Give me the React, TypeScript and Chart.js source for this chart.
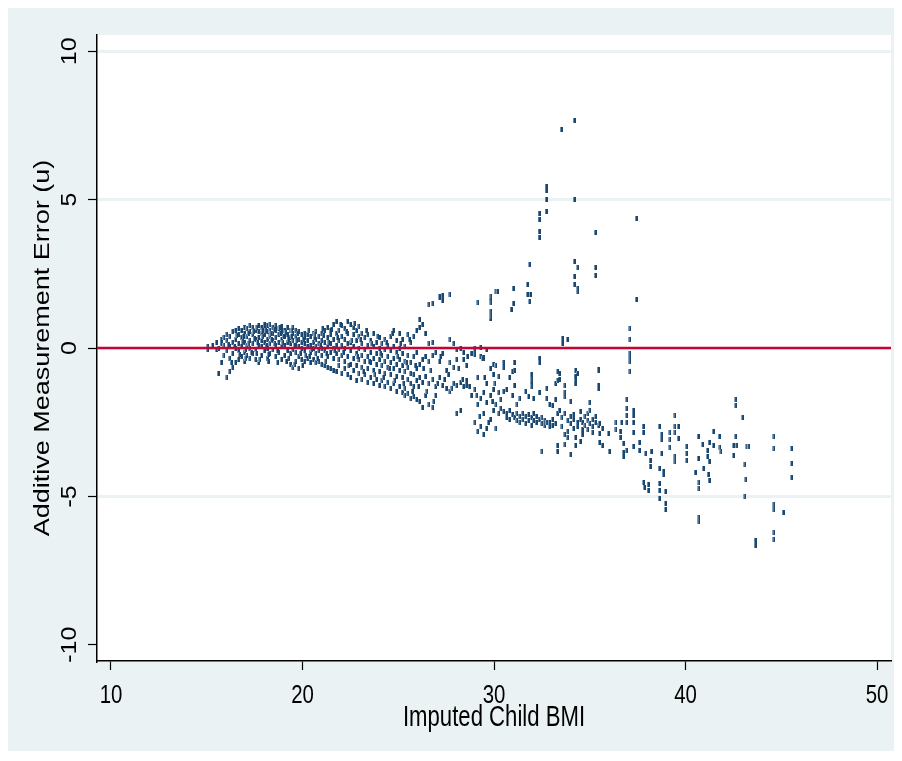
import React, { useEffect, useRef } from "react";
import { Chart, registerables } from "chart.js";

Chart.register(...registerables);

// ---- axes / labels ----
const X_TICKS = [10, 20, 30, 40, 50];
const Y_TICKS = [-10, -5, 0, 5, 10];
const X_TITLE = "Imputed Child BMI";
const Y_TITLE = "Additive Measurement Error (u)";
const X_RANGE = [9.27, 50.73];
const Y_RANGE = [-10.55, 10.55];
const REF_LINE_Y = 0;

// ---- data: [BMI, [errors...]] columns ----
const coreLeft: [number, number[]][] = [
  [15.05, [0.05, -0.05]],
  [15.3, [0.1]],
  [15.5, [0.2, -0.05]],
  [15.6, [-0.85, 0.0]],
  [15.75, [0.15, -0.5, 0.3]],
  [15.9, [-0.25, 0.1, 0.35]],
  [16.05, [-1.0, -0.1, 0.25, 0.45]],
  [16.2, [-0.8, -0.35, 0.05, 0.4]],
  [16.35, [-0.65, -0.2, 0.2, 0.55]],
  [16.5, [-0.5, 0.0, 0.3, 0.6]],
  [16.65, [-0.4, -0.1, 0.15, 0.45, 0.65]],
  [16.8, [-0.3, 0.05, 0.35, 0.6]],
  [16.95, [-0.45, -0.15, 0.2, 0.5, 0.7]],
  [17.1, [-0.25, 0.1, 0.4, 0.65]],
  [17.25, [-0.35, 0.0, 0.25, 0.55, 0.75]],
  [17.4, [-0.2, 0.15, 0.45, 0.7]],
  [17.55, [-0.4, -0.05, 0.3, 0.6]],
  [17.7, [-0.5, 0.1, 0.35, 0.55, 0.75]],
  [17.85, [-0.25, 0.05, 0.25, 0.5, 0.7]],
  [18.0, [-0.1, 0.2, 0.45, 0.65, 0.8]],
  [18.15, [-0.35, 0.0, 0.3, 0.55, 0.75]],
  [18.3, [-0.2, 0.15, 0.4, 0.6, 0.78]],
  [18.45, [-0.05, 0.25, 0.5, 0.7]],
  [18.6, [-0.3, 0.1, 0.35, 0.6, 0.75]],
  [18.75, [-0.15, 0.2, 0.45, 0.65]],
  [18.9, [-0.4, 0.05, 0.3, 0.55, 0.72]],
  [19.05, [-0.25, 0.1, 0.4, 0.6]],
  [19.2, [-0.1, 0.2, 0.45, 0.7]],
  [19.35, [-0.55, -0.2, 0.15, 0.35, 0.6]],
  [19.5, [-0.65, -0.05, 0.25, 0.5, 0.68]],
  [19.65, [-0.45, -0.15, 0.1, 0.4, 0.6]],
  [19.8, [-0.7, -0.3, 0.05, 0.3, 0.55]],
  [19.95, [-0.4, 0.0, 0.2, 0.45]],
];

const coreMid: [number, number[]][] = [
  [20.1, [-0.45, -0.1, 0.15, 0.35, 0.5]],
  [20.25, [-0.35, 0.05, 0.25, 0.45]],
  [20.4, [-0.5, -0.15, 0.1, 0.4]],
  [20.55, [-0.4, 0.0, 0.2, 0.5]],
  [20.7, [-0.5, -0.2, 0.05, 0.3, 0.55]],
  [20.85, [-0.45, -0.1, 0.15, 0.4]],
  [21.0, [-0.55, -0.25, 0.0, 0.25, 0.5]],
  [21.15, [-0.6, -0.1, 0.2, 0.6]],
  [21.3, [-0.65, -0.3, 0.05, 0.35, 0.7]],
  [21.45, [-0.7, -0.15, 0.15, 0.45]],
  [21.6, [-0.75, -0.35, 0.0, 0.3, 0.8]],
  [21.75, [-0.8, -0.2, 0.1, 0.5, 0.88]],
  [21.9, [-0.6, -0.4, -0.05, 0.25, 0.6]],
  [22.05, [-0.85, -0.25, 0.1, 0.4, 0.75]],
  [22.2, [-0.7, -0.45, 0.0, 0.3, 0.65]],
  [22.35, [-0.9, -0.3, 0.15, 0.5, 0.88]],
  [22.5, [-1.0, -0.55, -0.1, 0.2, 0.8]],
  [22.65, [-0.75, -0.35, 0.05, 0.45, 0.7]],
  [22.8, [-1.1, -0.6, -0.2, 0.25, 0.6]],
  [22.95, [-0.85, -0.4, 0.0, 0.4, 0.72]],
  [23.1, [-1.05, -0.65, -0.25, 0.15, 0.5]],
  [23.25, [-0.9, -0.45, -0.05, 0.35]],
  [23.4, [-1.15, -0.7, -0.3, 0.1, 0.45]],
  [23.55, [-1.0, -0.5, -0.15, 0.25]],
  [23.7, [-1.2, -0.75, -0.35, 0.05, 0.5]],
  [23.85, [-1.05, -0.55, -0.2, 0.2]],
  [24.0, [-1.25, -0.8, -0.4, 0.0, 0.35]],
  [24.15, [-1.1, -0.6, -0.25, 0.15]],
  [24.3, [-1.3, -0.85, -0.45, -0.05, 0.3]],
  [24.45, [-1.15, -0.65, -0.3, 0.1]],
  [24.6, [-1.35, -0.9, -0.5, -0.1, 0.4]],
  [24.75, [-1.2, -0.7, -0.35, 0.05, 0.6]],
  [24.9, [-1.45, -0.95, -0.55, -0.15, 0.25]],
  [25.05, [-1.3, -0.75, -0.4, 0.0, 0.5]],
  [25.2, [-1.5, -1.0, -0.6, -0.2, 0.3]],
  [25.35, [-1.6, -1.35, -0.8, -0.45, 0.05]],
  [25.5, [-1.55, -1.05, -0.65, -0.25, 0.45]],
  [25.65, [-1.7, -1.2, -0.85, -0.5, 0.2]],
  [25.8, [-1.65, -1.3, -0.9, -0.3, 0.4]],
  [25.95, [-1.75, -1.1, -0.7, -0.15, 0.6]],
];

const coreFill: [number, number][] = [
  [16.12, 0.12], [16.28, -0.48], [16.44, 0.05], [16.58, 0.42], [16.72, -0.22], [16.88, 0.22],
  [17.03, -0.05], [17.17, 0.5], [17.33, -0.15], [17.48, 0.32], [17.62, 0.68], [17.78, -0.38],
  [17.93, 0.38], [18.08, 0.58], [18.22, -0.22], [18.38, 0.28], [18.52, 0.62], [18.68, -0.1],
  [18.83, 0.48], [18.97, 0.18], [19.12, 0.52], [19.28, -0.35], [19.42, 0.4], [19.58, 0.08],
  [19.72, 0.5], [19.88, -0.18], [20.03, 0.3], [20.18, -0.25], [20.33, 0.58], [20.48, -0.05],
  [20.62, 0.35], [20.78, -0.35], [20.93, 0.1], [21.08, 0.42], [21.22, -0.45], [21.38, 0.2],
  [21.52, 0.62], [21.68, -0.1], [21.82, 0.35], [21.97, 0.78], [22.12, -0.15], [22.28, 0.55],
  [22.42, -0.6], [22.58, 0.25], [22.72, 0.82], [22.88, -0.3], [23.03, 0.3], [23.18, -0.8],
  [23.32, 0.6], [23.48, -0.45], [23.62, 0.15], [23.78, -0.9], [23.93, 0.4], [24.08, -0.2],
  [24.22, -1.0], [24.38, 0.2], [24.52, -0.7], [24.68, 0.5], [24.82, -1.1], [24.98, -0.3],
  [25.12, 0.15], [25.28, -1.2], [25.42, -0.5], [25.58, 0.3], [25.72, -1.45], [25.88, -0.6],
  [16.9, 0.38], [17.2, 0.15], [17.45, 0.55], [17.65, 0.2], [17.9, 0.6], [18.1, 0.1],
  [18.35, 0.5], [18.55, 0.15], [18.8, 0.7], [19.0, 0.4], [19.25, 0.3], [19.45, 0.6],
  [19.7, 0.25], [17.05, -0.35], [17.6, -0.2], [18.2, -0.45], [18.7, -0.5], [19.15, -0.45],
  [19.6, -0.55], [20.0, -0.6], [20.35, -0.3], [20.65, 0.45], [21.05, 0.65], [21.45, 0.6],
  [21.25, -0.2],
];

const spreadCols: [number, number[]][] = [
  [26.1, [-1.8, -1.0, -0.55, 0.7, 0.95]],
  [26.25, [-2.0, -1.15, -0.4, 0.8]],
  [26.4, [-1.6, -0.95, -0.3, 0.5]],
  [26.6, [-1.9, -1.2, -0.45, 0.15, 1.45]],
  [26.8, [-2.0, -1.05, -0.25, 0.2, 1.5]],
  [26.95, [-1.6, -1.3, -0.15]],
  [27.15, [-1.0, -0.45, 1.7, 1.75]],
  [27.3, [-1.25, -0.2, 1.6, 1.78]],
  [27.5, [-1.35, -0.75]],
  [27.7, [-1.45, -0.5, 0.3, 1.82]],
  [27.9, [-1.2, -0.65, 0.15]],
  [28.05, [-2.2, -1.25, -0.4, -0.05]],
  [28.25, [-2.1, -1.15, 0.0]],
  [28.4, [-1.3, -0.4, -0.15]],
  [28.55, [-1.1, -1.25, -0.6]],
  [28.8, [-1.6, -0.2]],
  [29.0, [-2.5, -1.4, -0.2, 0.0]],
  [29.15, [-2.8, -1.9, -1.0, 1.55]],
  [29.3, [-2.65, -1.7, -0.3, 0.02]],
  [29.45, [-2.9, -2.2, -1.5, -0.35]],
  [29.6, [-2.7, -1.85, -1.2, -0.05]],
  [29.8, [-2.4, -1.6, -0.7, 1.0, 1.2, 1.6]],
  [29.95, [-2.1, -1.4, -0.9, -0.55]],
  [30.1, [-2.7, -1.9, -0.6, 1.9]],
  [30.25, [-2.2, -1.5, -0.95]],
];

const spreadFill: [number, number][] = [
  [26.05, -1.3], [26.3, -0.7], [26.5, -1.45], [26.7, -0.75], [26.85, -1.8], [27.05, -1.2],
  [27.2, -0.3], [27.4, -1.05], [27.6, -0.9], [27.8, -1.35], [28.15, -0.7], [28.35, -1.05],
  [28.6, -0.3], [28.7, -1.3], [29.1, -1.6], [29.25, -2.3], [29.5, -1.0], [29.7, -2.5],
  [29.9, -1.8], [30.05, -1.2],
];

const bandCols: [number, number[]][] = [
  [30.35, [-2.05, -1.75]],
  [30.5, [-2.15, -1.45, -0.65, -0.5]],
  [30.65, [-2.35, -2.2, -1.4]],
  [30.8, [-2.4, -2.1, -1.0]],
  [30.95, [-2.25, -1.6, -0.8]],
  [31.05, [-2.35, -1.25, -0.75, -0.5]],
  [31.2, [-2.45, -2.2, -1.9]],
  [31.35, [-2.5, -2.3, -1.7]],
  [31.5, [-2.4, -2.2]],
  [31.65, [-2.55, -2.3, -1.45]],
  [31.8, [-2.45, -2.25, -1.64]],
  [31.95, [-2.6, -2.35, -1.2, -0.9]],
  [32.05, [-2.45, -2.2, -1.7]],
  [32.2, [-2.5, -2.3]],
  [32.35, [-2.4, -1.5, -0.35]],
  [32.5, [-3.5, -2.55, -2.35]],
  [32.65, [-2.6, -2.45]],
  [32.75, [-2.5, -1.7, -1.35]],
  [32.9, [-2.65, -2.5, -1.9]],
  [33.05, [-2.6, -2.4, -1.95]],
  [33.2, [-2.55, -1.75, -1.2]],
  [33.3, [-3.5, -3.3, -2.2]],
  [33.4, [-2.1, -1.05, -0.85]],
  [33.55, [-2.65, -2.35]],
  [33.7, [-3.25, -2.9, -2.2, -1.6, -1.25]],
  [33.85, [-3.0, -2.8, -2.45]],
  [34.0, [-3.6, -2.55, -2.3, -1.8]],
  [34.15, [-2.7, -2.4, -2.25]],
  [34.25, [-3.3, -3.0, -1.1, -0.75]],
  [34.35, [-2.65, -2.5, -0.85]],
  [34.5, [-3.15, -2.4, -2.15]],
  [34.6, [-2.9, -2.75, -2.5]],
  [34.75, [-2.6, -2.3]],
  [34.9, [-2.75, -2.45, -2.2]],
  [35.0, [-2.55, -2.1, -1.85]],
  [35.15, [-2.85, -2.65, -2.4]],
  [35.3, [-2.5, -2.3]],
  [35.45, [-2.6, -1.25, -0.75]],
  [35.5, [-3.2, -2.88, -2.55]],
  [35.65, [-3.3, -2.7]],
];

const tailPoints: [number, number][] = [
  [35.97, -2.88], [36.02, -3.5], [36.37, -2.52], [36.37, -2.76], [36.58, -2.8], [36.58, -3.0],
  [36.66, -2.52], [36.75, -3.21], [36.75, -3.52], [36.75, -3.66], [36.93, -1.75], [36.93, -2.03],
  [36.93, -2.26], [36.93, -2.52], [36.93, -3.44], [37.27, -2.09], [37.27, -2.29], [37.27, -2.52],
  [37.27, -2.84], [37.27, -3.33], [37.58, -3.2], [37.58, -3.44], [37.79, -2.65], [37.79, -2.84],
  [37.8, -4.55], [37.85, -4.7], [37.92, -3.55], [38.05, -4.6], [38.05, -4.8], [38.15, -3.78],
  [38.15, -3.98], [38.2, -3.5], [38.63, -2.65], [38.63, -4.06], [38.63, -4.56], [38.63, -4.79],
  [38.63, -5.07], [38.75, -2.93], [38.75, -3.1], [38.75, -3.55], [38.84, -4.17], [38.84, -4.28],
  [38.95, -4.84], [38.95, -5.24], [38.95, -5.46], [39.19, -2.85], [39.19, -3.1], [39.19, -3.35],
  [39.45, -2.26], [39.45, -2.65], [39.62, -2.65], [39.45, -2.84], [39.62, -3.04], [39.45, -3.66],
  [39.45, -3.83], [40.06, -3.33], [40.06, -3.55], [40.06, -3.8], [40.5, -4.2], [40.66, -2.97],
  [40.66, -3.72], [40.7, -4.55], [40.7, -4.75], [40.7, -5.7], [40.7, -5.85], [40.89, -3.24],
  [40.93, -4.06], [41.14, -3.46], [41.14, -3.65], [41.23, -3.83], [41.23, -3.19], [41.18, -4.28],
  [41.23, -4.45], [41.45, -2.8], [41.45, -3.27], [41.76, -2.99], [41.8, -3.37], [41.85, -3.5],
  [42.5, -3.29], [42.67, -3.29], [42.5, -3.61], [42.62, -1.73], [42.62, -1.93], [42.62, -2.97],
  [42.98, -2.34], [43.2, -3.33], [43.3, -3.33], [43.1, -3.92], [43.15, -4.43], [43.1, -4.99],
  [43.64, -6.5], [43.64, -6.65], [44.62, -2.97], [44.62, -3.38], [44.62, -5.29], [44.62, -5.46],
  [44.62, -6.23], [44.62, -6.45], [45.1, -5.55], [45.54, -3.38], [45.54, -3.89], [45.54, -4.37],
];

const highPoints: [number, number][] = [
  [34.19, 7.68], [33.51, 7.36], [32.72, 5.3], [32.72, 5.45], [32.72, 5.01], [34.19, 5.01],
  [32.72, 4.61], [32.35, 4.52], [32.35, 4.34], [32.35, 3.93], [32.35, 3.71], [35.29, 3.89],
  [37.43, 4.38], [31.86, 2.81], [34.19, 2.9], [34.37, 2.72], [35.29, 2.72], [35.29, 2.45],
  [34.19, 2.4], [34.19, 2.13], [34.37, 2.02], [34.37, 1.89], [31.74, 2.13], [31.74, 1.8],
  [31.9, 1.8], [31.86, 1.57], [31.0, 1.99], [31.0, 1.49], [30.89, 1.3], [30.17, 1.9],
  [29.84, 1.72], [29.84, 1.55], [29.84, 1.22], [29.84, 1.05], [29.16, 1.54], [37.43, 1.63],
  [37.1, 0.67], [37.1, 0.27], [33.57, 0.33], [33.57, 0.15], [33.83, 0.27], [37.1, -0.2],
  [37.1, -0.32], [37.1, -0.45], [37.1, -0.8], [28.99, -0.05], [28.99, -0.22], [29.43, -0.33],
  [35.45, -0.74], [35.45, -1.35], [34.23, -0.95], [34.23, -1.2], [33.32, -0.8], [33.32, -1.08],
  [33.7, -1.5], [33.7, -1.65], [31.97, -1.05], [31.97, -1.3], [32.37, -0.5], [29.4, -0.35],
];

const MARKER_COLOR = "#1a476f";
const MARKER_EDGE = "#8aa3bb";
const LINE_COLOR = "#c10534";
const BG = "#EAF2F3";
const FONT = '"Liberation Sans", Arial, Helvetica, sans-serif';

function buildPoints() {
  const pts: { x: number; y: number }[] = [];
  const cols = [...coreLeft, ...coreMid, ...spreadCols, ...bandCols];
  for (const [x, ys] of cols) for (const y of ys) pts.push({ x, y });
  for (const [x, y] of [...coreFill, ...spreadFill, ...tailPoints, ...highPoints]) pts.push({ x, y });
  return pts;
}

const textPlugin = {
  id: "stataText",
  beforeDraw(chart: any) {
    const { ctx, chartArea: a } = chart;
    ctx.save();
    ctx.fillStyle = "#ffffff";
    ctx.fillRect(a.left, a.top, a.right - a.left, a.bottom - a.top);
    ctx.restore();
  },
  afterDraw(chart: any) {
    const { ctx, chartArea: a } = chart;
    const xs = chart.scales.x;
    const ys = chart.scales.y;
    ctx.save();
    ctx.fillStyle = "#000";
    ctx.textAlign = "center";
    ctx.textBaseline = "middle";
    ctx.font = `24px ${FONT}`;
    for (const t of X_TICKS) {
      const px = xs.getPixelForValue(t);
      ctx.save();
      ctx.translate(px, a.bottom + 35);
      ctx.scale(0.85, 1.08);
      ctx.fillText(String(t), 0, 0);
      ctx.restore();
    }
    ctx.font = `25px ${FONT}`;
    for (const t of Y_TICKS) {
      const py = ys.getPixelForValue(t);
      ctx.save();
      ctx.translate(a.left - 27, py);
      ctx.scale(0.88, 1);
      ctx.rotate(-Math.PI / 2);
      ctx.fillText(String(t), 0, 0);
      ctx.restore();
    }
    ctx.font = `27px ${FONT}`;
    ctx.save();
    ctx.translate((a.left + a.right) / 2, a.bottom + 57);
    ctx.scale(0.82, 1.08);
    ctx.fillText(X_TITLE, 0, 0);
    ctx.restore();
    ctx.save();
    ctx.translate(a.left - 54, (a.top + a.bottom) / 2);
    ctx.scale(0.85, 1);
    ctx.rotate(-Math.PI / 2);
    ctx.fillText(Y_TITLE, 0, 0);
    ctx.restore();
    ctx.restore();
  },
};

export default function App() {
  const ref = useRef<HTMLCanvasElement | null>(null);
  useEffect(() => {
    if (!ref.current) return;
    const marker = document.createElement("canvas");
    marker.width = 3;
    marker.height = 5;
    const mctx = marker.getContext("2d")!;
    mctx.fillStyle = MARKER_EDGE;
    mctx.fillRect(0, 0, 1, 5);
    mctx.fillStyle = MARKER_COLOR;
    mctx.fillRect(1, 0, 2, 5);

    const chart = new Chart(ref.current, {
      type: "scatter",
      data: {
        datasets: [
          {
            type: "line",
            data: [
              { x: X_RANGE[0], y: REF_LINE_Y },
              { x: X_RANGE[1], y: REF_LINE_Y },
            ],
            borderColor: LINE_COLOR,
            borderWidth: 2.5,
            pointRadius: 0,
            fill: false,
          } as any,
          {
            type: "scatter",
            data: buildPoints(),
            pointStyle: marker as any,
            pointRadius: 2,
            backgroundColor: MARKER_COLOR,
            borderColor: MARKER_COLOR,
          } as any,
        ],
      },
      options: {
        responsive: false,
        animation: false,
        devicePixelRatio: 1,
        events: [],
        layout: { padding: { top: 27, right: 5, left: 0, bottom: 0 } },
        plugins: { legend: { display: false }, tooltip: { enabled: false }, title: { display: false } },
        scales: {
          x: {
            type: "linear",
            min: X_RANGE[0],
            max: X_RANGE[1],
            afterBuildTicks: (s: any) => {
              s.ticks = X_TICKS.map((v) => ({ value: v }));
            },
            afterFit: (s: any) => {
              s.height = 90;
            },
            ticks: { display: false },
            grid: {
              drawOnChartArea: false,
              drawTicks: true,
              tickLength: 9,
              tickColor: "#000",
              tickWidth: 1.2,
            },
            border: { display: true, color: "#000", width: 1.5 },
          },
          y: {
            type: "linear",
            min: Y_RANGE[0],
            max: Y_RANGE[1],
            afterBuildTicks: (s: any) => {
              s.ticks = Y_TICKS.map((v) => ({ value: v }));
            },
            afterFit: (s: any) => {
              s.width = 89;
            },
            ticks: { display: false },
            grid: {
              color: (c: any) => (c.tick && c.tick.value === -10 ? "rgba(0,0,0,0)" : BG),
              lineWidth: 3,
              drawTicks: true,
              tickLength: 9,
              tickColor: "#000",
              tickWidth: 1.2,
            },
            border: { display: true, color: "#000", width: 1.5 },
          },
        },
      },
      plugins: [textPlugin],
    });
    return () => chart.destroy();
  }, []);

  return (
    <div style={{ width: 888, height: 743, background: BG }}>
      <canvas ref={ref} width={888} height={743} style={{ display: "block" }} />
    </div>
  );
}
